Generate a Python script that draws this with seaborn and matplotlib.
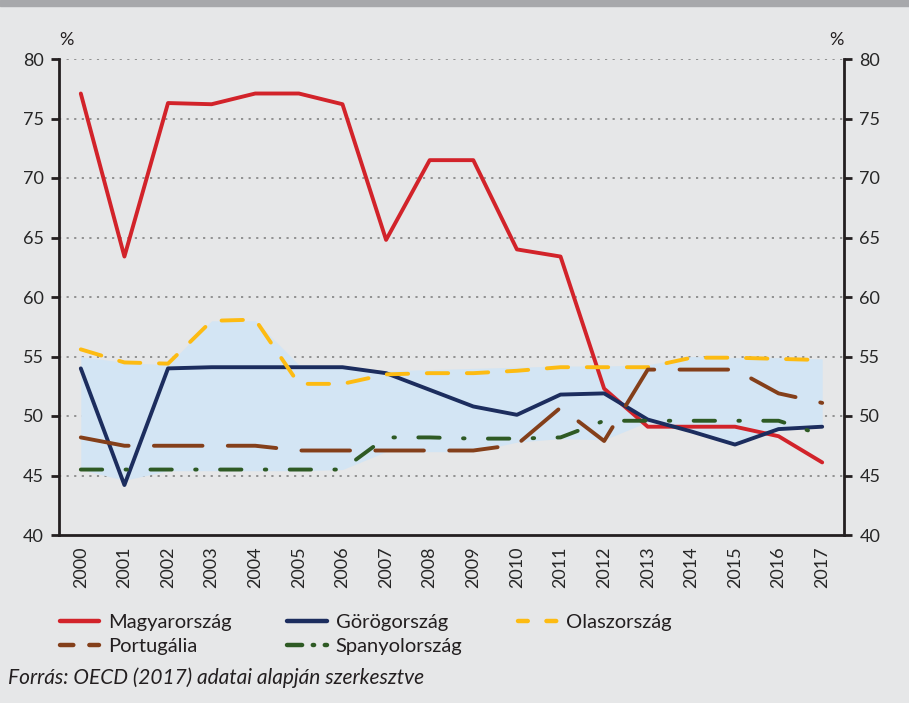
import numpy as np
import pandas as pd
import matplotlib
matplotlib.use("Agg")
import matplotlib.pyplot as plt
from matplotlib.patches import Rectangle
from matplotlib.lines import Line2D
import seaborn as sns

years = [str(y) for y in range(2000, 2018)]

# values (%)
hungary = [77.1, 63.4, 76.3, 76.2, 77.1, 77.1, 76.2, 64.8, 71.5, 71.5, 64.0, 63.4, 52.3, 49.1, 49.1, 49.1, 48.3, 46.1]
greece = [54.0, 44.2, 54.0, 54.1, 54.1, 54.1, 54.1, 53.6, 52.2, 50.8, 50.1, 51.8, 51.9, 49.7, 48.7, 47.6, 48.9, 49.1]
italy = [55.6, 54.5, 54.4, 58.0, 58.1, 52.7, 52.7, 53.5, 53.6, 53.6, 53.8, 54.1, 54.1, 54.1, 54.9, 54.9, 54.8, 54.7]
portugal = [48.2, 47.5, 47.5, 47.5, 47.5, 47.1, 47.1, 47.1, 47.1, 47.1, 47.6, 50.7, 47.9, 53.9, 53.9, 53.9, 51.9, 51.1]
spain = [45.5, 45.5, 45.5, 45.5, 45.5, 45.5, 45.5, 48.2, 48.2, 48.1, 48.1, 48.2, 49.6, 49.6, 49.6, 49.6, 49.6, 48.4]

# shaded range
band_low = [45.5, 44.6, 45.4, 45.4, 45.4, 45.4, 45.5, 47.0, 47.0, 47.0, 47.8, 48.1, 48.0, 49.5, 48.7, 47.6, 48.9, 49.1]
band_high = [55.0, 54.5, 54.3, 58.0, 58.0, 54.3, 54.2, 53.8, 53.9, 54.0, 54.1, 54.2, 54.2, 54.3, 55.0, 54.9, 54.9, 54.8]

names = ["Magyarország", "Görögország", "Olaszország", "Portugália", "Spanyolország"]

bg = "#e6e7e8"
sns.set_theme(style="white")
plt.rcParams["font.family"] = ["Lato", "DejaVu Sans"]
plt.rcParams["text.color"] = "#231f20"

fig = plt.figure(figsize=(9.09, 7.03), dpi=100, facecolor=bg)
ax = fig.add_axes([59 / 909, 1 - 535 / 703, (844 - 59) / 909, (535 - 59) / 703])
ax.set_facecolor(bg)
fig.patches.append(Rectangle((0, 1 - 6 / 703), 1, 6 / 703, transform=fig.transFigure,
                             color="#a7a8ab", zorder=0))

x = np.arange(len(years))
ax.fill_between(x, band_low, band_high, color="#d3e5f4", lw=0, zorder=1)

colors = ["#d2232a", "#1c2d5e", "#fdbb12", "#843f1a", "#2e5a24"]
styles = ["-", "-", (0, (5.5, 4.8)), (0, (12.5, 6.5)), (0, (5.5, 6.0, 0.4, 6.0))]
# shorter patterns for the legend keys
leg_styles = ["-", "-", (0, (2.2, 4.2)), (0, (3.0, 3.6)), (0, (3.4, 2.4, 0.3, 2.4))]

for vals, col, ls, nm in zip([hungary, greece, italy, portugal, spain], colors, styles, names):
    sns.lineplot(x=x, y=vals, ax=ax, color=col, lw=2.8, linestyle=ls, label=nm,
                 legend=False, zorder=3)
    ax.get_lines()[-1].set_dash_capstyle("round")

handles = [Line2D([], [], color=c, lw=3.2, linestyle=s, dash_capstyle="round")
           for c, s in zip(colors, leg_styles)]

ax.set_xlim(-0.5, len(years) - 0.5)
ax.set_ylim(40, 80)
ax.set_yticks(range(40, 81, 5))
ax.set_xticks(x)
ax.set_xticklabels(years, rotation=90, fontsize=13)
ax.set_xticks(np.arange(-0.5, len(years), 1), minor=True)
ax.tick_params(axis="x", which="major", length=0, pad=8)
ax.tick_params(axis="x", which="minor", length=6, width=2, color="#231f20", direction="out")
ax.tick_params(axis="y", length=6, width=2, color="#231f20", direction="out",
               labelsize=13, left=True, right=True, labelleft=True, labelright=True, pad=5)

for y in range(45, 81, 5):
    ax.axhline(y, color="#8a8a8a", lw=1.3, ls=(0, (1.2, 3.0)), zorder=0.5)

for side in ["left", "right", "bottom"]:
    ax.spines[side].set_visible(True)
    ax.spines[side].set_color("#231f20")
    ax.spines[side].set_linewidth(2)
ax.spines["top"].set_visible(False)
ax.set_xlabel("")
ax.set_ylabel("")

fig.text(66 / 909, 1 - 40 / 703, "%", fontsize=13, ha="center", va="center")
fig.text(836 / 909, 1 - 40 / 703, "%", fontsize=13, ha="center", va="center")

order = [0, 3, 1, 4, 2]
fig.legend([handles[i] for i in order], [names[i] for i in order],
           loc="upper left", bbox_to_anchor=(60 / 909, 1 - 614 / 703), ncol=3,
           frameon=False, fontsize=14.5, handlelength=1.95, handletextpad=0.45,
           columnspacing=2.75, labelspacing=0.35, borderpad=0, borderaxespad=0)

fig.text(8 / 909, 1 - 678 / 703, "Forrás: OECD (2017) adatai alapján szerkesztve",
         fontsize=15, style="italic", ha="left", va="center")

fig.savefig("out.png", dpi=100, facecolor=bg)
